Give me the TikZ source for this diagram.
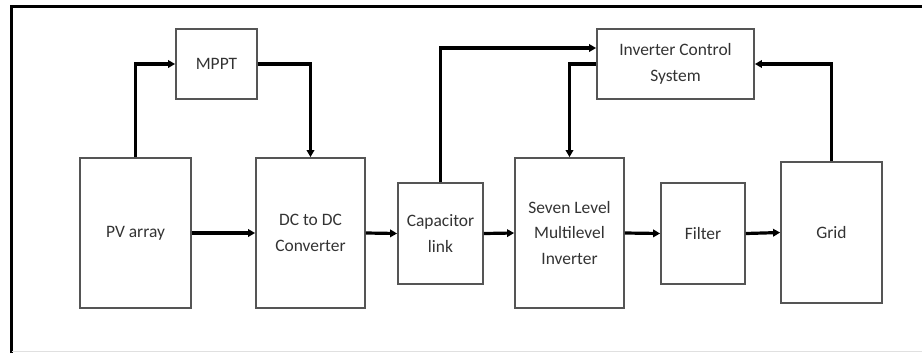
\documentclass[tikz,border=0pt]{standalone}
\usepackage{fontspec}
\setmainfont{Carlito}
\usetikzlibrary{arrows.meta}
\definecolor{boxgray}{HTML}{555555}
\definecolor{txtgray}{HTML}{333333}
\begin{document}
\begin{tikzpicture}[x=1bp,y=-1bp,
  blk/.style={draw=boxgray, line width=1.8bp, rectangle, inner sep=0pt, align=center,
    text=txtgray, font=\fontsize{17.5}{26}\selectfont},
  conn/.style={line width=3.2bp, black, -{Triangle[length=7bp,width=7.5bp]}}]
\useasboundingbox (0,0) rectangle (922,353);
\fill[white] (0,0) rectangle (922,353);
% frame
\draw[line width=3bp, black] (11,353) -- (11,6) -- (922,6);
\draw[line width=0.8bp, black!12] (12,351.5) -- (922,351.5);
% blocks
\node[blk, minimum width=111bp, minimum height=150bp] (pv) at (135.5,233) {PV array};
\node[blk, minimum width=81bp, minimum height=70bp] (mppt) at (216.5,64) {MPPT};
\node[blk, minimum width=109bp, minimum height=150bp] (dc) at (310.5,233) {DC to DC\\Converter};
\node[blk, minimum width=85bp, minimum height=101bp] (cap) at (440.5,233.5) {Capacitor\\link};
\node[blk, minimum width=109bp, minimum height=150bp] (sev) at (569.5,233) {Seven Level\\Multilevel\\Inverter};
\node[blk, minimum width=84bp, minimum height=101bp] (fil) at (703,233.5) {Filter};
\node[blk, minimum width=101bp, minimum height=141bp] (grid) at (831.5,232.5) {Grid};
\node[blk, minimum width=157bp, minimum height=70bp] (ics) at (675.5,64) {Inverter Control\\System};
% connectors
\draw[conn] (pv.north) |- (mppt.west);
\draw[conn] (mppt.east) -| (dc.north);
\draw[conn] (pv.east) -- (dc.west);
\draw[conn] (dc.east) -- (cap.west);
\draw[conn] (cap.north) |- ([yshift=16bp]ics.west);
\draw[conn] (ics.west) -| (sev.north);
\draw[conn] (cap.east) -- (sev.west);
\draw[conn] (sev.east) -- (fil.west);
\draw[conn] (fil.east) -- (grid.west);
\draw[conn] (grid.north) |- (ics.east);
\end{tikzpicture}
\end{document}
